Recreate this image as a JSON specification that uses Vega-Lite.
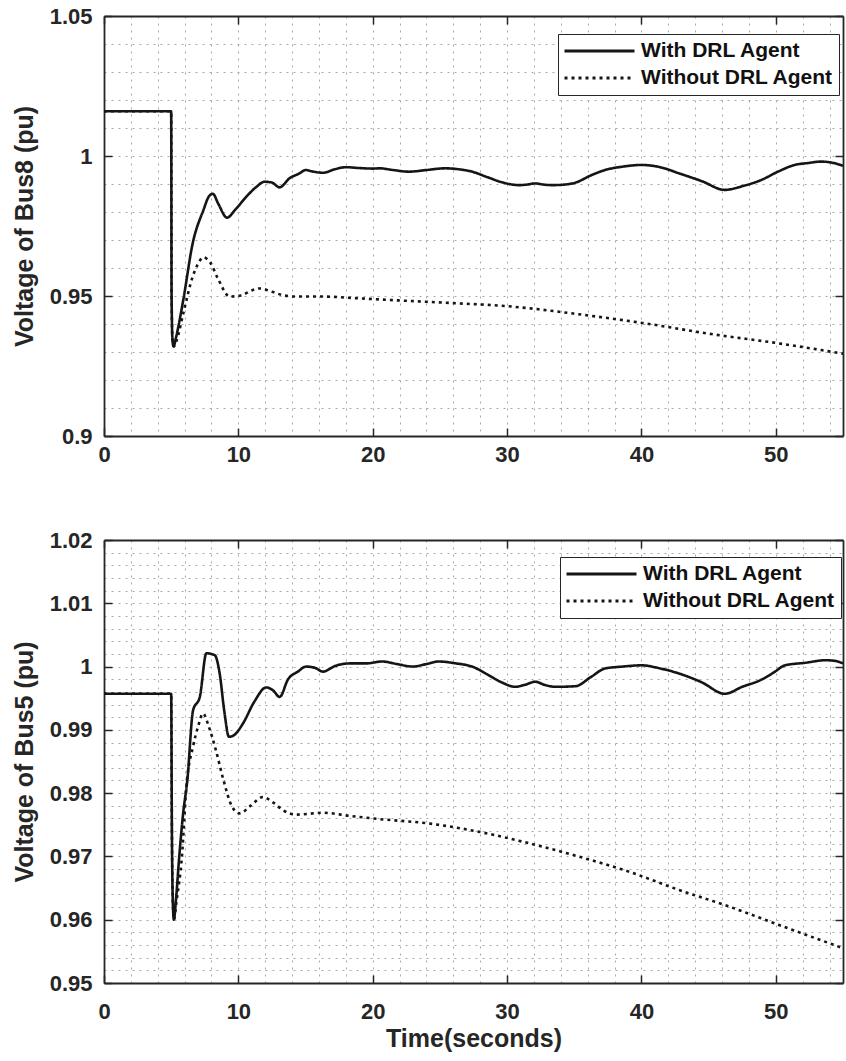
{
  "$schema": "https://vega.github.io/schema/vega-lite/v6.json",
  "padding": {"left": 12, "top": 5, "right": 1, "bottom": 5},
  "background": "white",
  "config": {
    "view": {"stroke": null},
    "font": "Liberation Sans",
    "axis": {
      "labelFont": "Liberation Sans",
      "labelFontWeight": "bold",
      "labelFontSize": 22,
      "labelColor": "#262626",
      "titleFont": "Liberation Sans",
      "titleFontWeight": "bold",
      "titleFontSize": 25,
      "titleColor": "#262626",
      "domainColor": "#262626",
      "domainWidth": 1.8,
      "tickColor": "#262626",
      "tickWidth": 1.5,
      "tickSize": -8,
      "labelOverlap": false,
      "labelFlush": false,
      "labelBound": false,
      "gridColor": "#a8a8a8",
      "gridDash": [2, 5],
      "gridWidth": 1,
      "format": "~g"
    },
    "legend": {
      "labelFont": "Liberation Sans",
      "labelFontWeight": "bold",
      "labelFontSize": 21,
      "labelColor": "#111111",
      "labelLimit": 0
    }
  },
  "datasets": {
    "bus8": [
      {"series": "Without DRL Agent", "t": 0, "v": 1.016},
      {"series": "Without DRL Agent", "t": 5.0, "v": 1.016},
      {"series": "Without DRL Agent", "t": 5.03, "v": 0.95},
      {"series": "Without DRL Agent", "t": 5.1, "v": 0.934},
      {"series": "Without DRL Agent", "t": 5.2, "v": 0.932},
      {"series": "Without DRL Agent", "t": 5.4, "v": 0.934},
      {"series": "Without DRL Agent", "t": 5.9, "v": 0.9438},
      {"series": "Without DRL Agent", "t": 6.6, "v": 0.9569},
      {"series": "Without DRL Agent", "t": 7.0, "v": 0.9615},
      {"series": "Without DRL Agent", "t": 7.4, "v": 0.9638},
      {"series": "Without DRL Agent", "t": 7.9, "v": 0.962},
      {"series": "Without DRL Agent", "t": 8.5, "v": 0.956},
      {"series": "Without DRL Agent", "t": 9.35, "v": 0.9498},
      {"series": "Without DRL Agent", "t": 10.2, "v": 0.9502},
      {"series": "Without DRL Agent", "t": 11.0, "v": 0.952},
      {"series": "Without DRL Agent", "t": 11.6, "v": 0.9527},
      {"series": "Without DRL Agent", "t": 12.5, "v": 0.9515},
      {"series": "Without DRL Agent", "t": 13.4, "v": 0.9502},
      {"series": "Without DRL Agent", "t": 14.3, "v": 0.9498},
      {"series": "Without DRL Agent", "t": 16.3, "v": 0.9498},
      {"series": "Without DRL Agent", "t": 18.5, "v": 0.9493},
      {"series": "Without DRL Agent", "t": 21.2, "v": 0.9486},
      {"series": "Without DRL Agent", "t": 25.4, "v": 0.9476},
      {"series": "Without DRL Agent", "t": 30.4, "v": 0.9462},
      {"series": "Without DRL Agent", "t": 35.3, "v": 0.9435},
      {"series": "Without DRL Agent", "t": 40.3, "v": 0.9402},
      {"series": "Without DRL Agent", "t": 45.2, "v": 0.9364},
      {"series": "Without DRL Agent", "t": 50.2, "v": 0.9331},
      {"series": "Without DRL Agent", "t": 55, "v": 0.9294},
      {"series": "With DRL Agent", "t": 0, "v": 1.016},
      {"series": "With DRL Agent", "t": 5.0, "v": 1.016},
      {"series": "With DRL Agent", "t": 5.03, "v": 0.95},
      {"series": "With DRL Agent", "t": 5.1, "v": 0.934},
      {"series": "With DRL Agent", "t": 5.18, "v": 0.932},
      {"series": "With DRL Agent", "t": 5.35, "v": 0.935},
      {"series": "With DRL Agent", "t": 5.9, "v": 0.9486},
      {"series": "With DRL Agent", "t": 6.6, "v": 0.9688},
      {"series": "With DRL Agent", "t": 7.4, "v": 0.9807},
      {"series": "With DRL Agent", "t": 7.8, "v": 0.9855},
      {"series": "With DRL Agent", "t": 8.1, "v": 0.9865},
      {"series": "With DRL Agent", "t": 8.5, "v": 0.983},
      {"series": "With DRL Agent", "t": 9.15, "v": 0.978},
      {"series": "With DRL Agent", "t": 9.8, "v": 0.981},
      {"series": "With DRL Agent", "t": 10.6, "v": 0.9855},
      {"series": "With DRL Agent", "t": 11.3, "v": 0.9888},
      {"series": "With DRL Agent", "t": 11.95, "v": 0.9908},
      {"series": "With DRL Agent", "t": 12.5, "v": 0.9905},
      {"series": "With DRL Agent", "t": 13.07, "v": 0.9888},
      {"series": "With DRL Agent", "t": 13.8, "v": 0.992},
      {"series": "With DRL Agent", "t": 14.55, "v": 0.9938},
      {"series": "With DRL Agent", "t": 15.0, "v": 0.995},
      {"series": "With DRL Agent", "t": 15.5, "v": 0.9945},
      {"series": "With DRL Agent", "t": 16.3, "v": 0.994},
      {"series": "With DRL Agent", "t": 17.2, "v": 0.9953},
      {"series": "With DRL Agent", "t": 18.0, "v": 0.996},
      {"series": "With DRL Agent", "t": 19.0, "v": 0.9957},
      {"series": "With DRL Agent", "t": 20.0, "v": 0.9955},
      {"series": "With DRL Agent", "t": 20.5, "v": 0.9956},
      {"series": "With DRL Agent", "t": 21.5, "v": 0.995},
      {"series": "With DRL Agent", "t": 22.7, "v": 0.9944},
      {"series": "With DRL Agent", "t": 24.0, "v": 0.995},
      {"series": "With DRL Agent", "t": 25.4, "v": 0.9956},
      {"series": "With DRL Agent", "t": 26.5, "v": 0.9952},
      {"series": "With DRL Agent", "t": 27.4, "v": 0.9944},
      {"series": "With DRL Agent", "t": 28.5, "v": 0.9925},
      {"series": "With DRL Agent", "t": 29.7, "v": 0.9905},
      {"series": "With DRL Agent", "t": 30.9, "v": 0.9896},
      {"series": "With DRL Agent", "t": 31.5, "v": 0.9898},
      {"series": "With DRL Agent", "t": 32.1, "v": 0.9902},
      {"series": "With DRL Agent", "t": 32.7, "v": 0.9898},
      {"series": "With DRL Agent", "t": 33.35, "v": 0.9896},
      {"series": "With DRL Agent", "t": 34.3, "v": 0.9898},
      {"series": "With DRL Agent", "t": 35.1, "v": 0.9905},
      {"series": "With DRL Agent", "t": 36.2, "v": 0.993},
      {"series": "With DRL Agent", "t": 37.3, "v": 0.995},
      {"series": "With DRL Agent", "t": 38.6, "v": 0.9962},
      {"series": "With DRL Agent", "t": 40.0, "v": 0.9968},
      {"series": "With DRL Agent", "t": 41.4, "v": 0.996},
      {"series": "With DRL Agent", "t": 42.8, "v": 0.9938},
      {"series": "With DRL Agent", "t": 44.5, "v": 0.991},
      {"series": "With DRL Agent", "t": 46.2, "v": 0.9879},
      {"series": "With DRL Agent", "t": 47.5, "v": 0.9892},
      {"series": "With DRL Agent", "t": 48.9, "v": 0.9914},
      {"series": "With DRL Agent", "t": 50.2, "v": 0.9945},
      {"series": "With DRL Agent", "t": 51.4, "v": 0.9968},
      {"series": "With DRL Agent", "t": 52.4, "v": 0.9975},
      {"series": "With DRL Agent", "t": 53.4, "v": 0.998},
      {"series": "With DRL Agent", "t": 54.3, "v": 0.9975},
      {"series": "With DRL Agent", "t": 55, "v": 0.9965}
    ],
    "bus5": [
      {"series": "Without DRL Agent", "t": 0, "v": 0.9957},
      {"series": "Without DRL Agent", "t": 5.0, "v": 0.9957},
      {"series": "Without DRL Agent", "t": 5.05, "v": 0.975},
      {"series": "Without DRL Agent", "t": 5.12, "v": 0.963},
      {"series": "Without DRL Agent", "t": 5.2, "v": 0.96},
      {"series": "Without DRL Agent", "t": 5.4, "v": 0.963},
      {"series": "Without DRL Agent", "t": 5.8, "v": 0.97},
      {"series": "Without DRL Agent", "t": 6.13, "v": 0.981},
      {"series": "Without DRL Agent", "t": 6.63, "v": 0.9874},
      {"series": "Without DRL Agent", "t": 7.0, "v": 0.9905},
      {"series": "Without DRL Agent", "t": 7.37, "v": 0.9926},
      {"series": "Without DRL Agent", "t": 7.8, "v": 0.9905},
      {"series": "Without DRL Agent", "t": 8.3, "v": 0.987},
      {"series": "Without DRL Agent", "t": 8.9, "v": 0.982},
      {"series": "Without DRL Agent", "t": 9.5, "v": 0.978},
      {"series": "Without DRL Agent", "t": 10.1, "v": 0.9768},
      {"series": "Without DRL Agent", "t": 10.9, "v": 0.978},
      {"series": "Without DRL Agent", "t": 11.83, "v": 0.9794},
      {"series": "Without DRL Agent", "t": 12.6, "v": 0.9785},
      {"series": "Without DRL Agent", "t": 13.4, "v": 0.9772},
      {"series": "Without DRL Agent", "t": 14.3, "v": 0.9766},
      {"series": "Without DRL Agent", "t": 16.3, "v": 0.9769},
      {"series": "Without DRL Agent", "t": 18.3, "v": 0.9764},
      {"series": "Without DRL Agent", "t": 20.5, "v": 0.9759},
      {"series": "Without DRL Agent", "t": 24.2, "v": 0.9752},
      {"series": "Without DRL Agent", "t": 27.9, "v": 0.9739},
      {"series": "Without DRL Agent", "t": 31.6, "v": 0.9721},
      {"series": "Without DRL Agent", "t": 35.3, "v": 0.97},
      {"series": "Without DRL Agent", "t": 39.05, "v": 0.9676},
      {"series": "Without DRL Agent", "t": 42.8, "v": 0.9647},
      {"series": "Without DRL Agent", "t": 46.5, "v": 0.9621},
      {"series": "Without DRL Agent", "t": 50.2, "v": 0.9592},
      {"series": "Without DRL Agent", "t": 55, "v": 0.9555},
      {"series": "With DRL Agent", "t": 0, "v": 0.9957},
      {"series": "With DRL Agent", "t": 5.0, "v": 0.9957},
      {"series": "With DRL Agent", "t": 5.05, "v": 0.975},
      {"series": "With DRL Agent", "t": 5.12, "v": 0.963},
      {"series": "With DRL Agent", "t": 5.2, "v": 0.96},
      {"series": "With DRL Agent", "t": 5.35, "v": 0.963},
      {"series": "With DRL Agent", "t": 5.6, "v": 0.97},
      {"series": "With DRL Agent", "t": 5.89, "v": 0.9768},
      {"series": "With DRL Agent", "t": 6.2, "v": 0.982},
      {"series": "With DRL Agent", "t": 6.63, "v": 0.9931},
      {"series": "With DRL Agent", "t": 7.13, "v": 0.9952},
      {"series": "With DRL Agent", "t": 7.62, "v": 1.0021},
      {"series": "With DRL Agent", "t": 8.24, "v": 1.0018},
      {"series": "With DRL Agent", "t": 8.61, "v": 0.9989},
      {"series": "With DRL Agent", "t": 8.95, "v": 0.993},
      {"series": "With DRL Agent", "t": 9.3, "v": 0.9889},
      {"series": "With DRL Agent", "t": 9.7, "v": 0.9892},
      {"series": "With DRL Agent", "t": 10.34, "v": 0.991},
      {"series": "With DRL Agent", "t": 11.2, "v": 0.9945},
      {"series": "With DRL Agent", "t": 12.07, "v": 0.9967},
      {"series": "With DRL Agent", "t": 12.6, "v": 0.9962},
      {"series": "With DRL Agent", "t": 13.07, "v": 0.9952},
      {"series": "With DRL Agent", "t": 13.7, "v": 0.998},
      {"series": "With DRL Agent", "t": 14.43, "v": 0.9992},
      {"series": "With DRL Agent", "t": 15.04, "v": 1.0},
      {"series": "With DRL Agent", "t": 15.7, "v": 0.9998},
      {"series": "With DRL Agent", "t": 16.3, "v": 0.9992},
      {"series": "With DRL Agent", "t": 17.2, "v": 1.0001},
      {"series": "With DRL Agent", "t": 18.3, "v": 1.0005},
      {"series": "With DRL Agent", "t": 19.5, "v": 1.0005},
      {"series": "With DRL Agent", "t": 20.7, "v": 1.0008},
      {"series": "With DRL Agent", "t": 21.8, "v": 1.0004},
      {"series": "With DRL Agent", "t": 23.0, "v": 1.0},
      {"series": "With DRL Agent", "t": 24.0, "v": 1.0004},
      {"series": "With DRL Agent", "t": 24.9, "v": 1.0008},
      {"series": "With DRL Agent", "t": 26.2, "v": 1.0005},
      {"series": "With DRL Agent", "t": 27.4, "v": 1.0},
      {"series": "With DRL Agent", "t": 28.5, "v": 0.9988},
      {"series": "With DRL Agent", "t": 29.6, "v": 0.9975},
      {"series": "With DRL Agent", "t": 30.6, "v": 0.9968},
      {"series": "With DRL Agent", "t": 31.3, "v": 0.9971},
      {"series": "With DRL Agent", "t": 32.1, "v": 0.9976},
      {"series": "With DRL Agent", "t": 32.8, "v": 0.9971},
      {"series": "With DRL Agent", "t": 33.6, "v": 0.9968},
      {"series": "With DRL Agent", "t": 35.1, "v": 0.9969},
      {"series": "With DRL Agent", "t": 36.2, "v": 0.9983},
      {"series": "With DRL Agent", "t": 37.3, "v": 0.9997},
      {"series": "With DRL Agent", "t": 38.6, "v": 1.0},
      {"series": "With DRL Agent", "t": 40.0, "v": 1.0002},
      {"series": "With DRL Agent", "t": 41.4, "v": 0.9997},
      {"series": "With DRL Agent", "t": 42.8, "v": 0.9989},
      {"series": "With DRL Agent", "t": 44.5, "v": 0.9975},
      {"series": "With DRL Agent", "t": 46.2, "v": 0.9957},
      {"series": "With DRL Agent", "t": 47.5, "v": 0.9968},
      {"series": "With DRL Agent", "t": 48.9, "v": 0.9979},
      {"series": "With DRL Agent", "t": 49.8, "v": 0.999},
      {"series": "With DRL Agent", "t": 50.7, "v": 1.0002},
      {"series": "With DRL Agent", "t": 52.2, "v": 1.0006},
      {"series": "With DRL Agent", "t": 53.7, "v": 1.001},
      {"series": "With DRL Agent", "t": 54.4, "v": 1.0009},
      {"series": "With DRL Agent", "t": 55, "v": 1.0005}
    ]
  },
  "bounds": "flush",
  "spacing": 104,
  "resolve": {"scale": {"strokeDash": "independent"}, "legend": {"strokeDash": "independent"}},
  "vconcat": [
    {
      "width": 739,
      "height": 420,
      "data": {"name": "bus8"},
      "layer": [
        {
          "mark": {"type": "line", "interpolate": "monotone", "strokeWidth": 2.6, "color": "#151515", "clip": true},
          "encoding": {
            "x": {
              "field": "t", "type": "quantitative",
              "scale": {"domain": [0, 55], "nice": false, "zero": false},
              "axis": {
                "orient": "bottom", "title": null, "grid": true,
                "values": [0, 2, 4, 6, 8, 10, 12, 14, 16, 18, 20, 22, 24, 26, 28, 30, 32, 34, 36, 38, 40, 42, 44, 46, 48, 50, 52, 54],
                "labelExpr": "datum.value % 10 == 0 ? datum.label : ''",
                "tickOpacity": {"condition": {"test": "datum.value % 10 == 0", "value": 1}, "value": 0},
                "labelPadding": 16
              }
            },
            "y": {
              "field": "v", "type": "quantitative",
              "scale": {"domain": [0.9, 1.05], "nice": false, "zero": false},
              "axis": {
                "orient": "left", "title": "Voltage of Bus8 (pu)", "grid": true,
                "values": [0.9, 0.91, 0.92, 0.93, 0.94, 0.95, 0.96, 0.97, 0.98, 0.99, 1, 1.01, 1.02, 1.03, 1.04, 1.05],
                "labelExpr": "abs(datum.value * 20 - round(datum.value * 20)) < 0.001 ? datum.label : ''",
                "tickOpacity": {"condition": {"test": "abs(datum.value * 20 - round(datum.value * 20)) < 0.001", "value": 1}, "value": 0},
                "labelPadding": 20,
                "titlePadding": 12
              }
            },
            "strokeDash": {
              "field": "series", "type": "nominal",
              "scale": {"domain": ["With DRL Agent", "Without DRL Agent"], "range": [[1, 0], [3, 4]]},
              "legend": {
                "title": null, "orient": "none", "legendX": 454, "legendY": 18,
                "symbolType": "stroke", "symbolSize": 4900, "symbolStrokeWidth": 2.8,
                "symbolStrokeColor": "#151515", "clipHeight": 24, "rowPadding": 3,
                "padding": 5, "labelOffset": 5, "strokeColor": "#262626", "fillColor": "white"
              }
            }
          }
        },
        {
          "mark": {"type": "point", "opacity": 0},
          "encoding": {
            "x": {
              "field": "t", "type": "quantitative",
              "axis": {"orient": "top", "title": null, "labels": false, "grid": false, "values": [0, 10, 20, 30, 40, 50]}
            },
            "y": {
              "field": "v", "type": "quantitative",
              "axis": {"orient": "right", "title": null, "labels": false, "grid": false, "values": [0.9, 0.95, 1, 1.05]}
            }
          }
        }
      ],
      "resolve": {"axis": {"x": "independent", "y": "independent"}}
    },
    {
      "width": 739,
      "height": 443,
      "data": {"name": "bus5"},
      "layer": [
        {
          "mark": {"type": "line", "interpolate": "monotone", "strokeWidth": 2.6, "color": "#151515", "clip": true},
          "encoding": {
            "x": {
              "field": "t", "type": "quantitative",
              "scale": {"domain": [0, 55], "nice": false, "zero": false},
              "axis": {
                "orient": "bottom", "title": "Time(seconds)", "grid": true,
                "values": [0, 2, 4, 6, 8, 10, 12, 14, 16, 18, 20, 22, 24, 26, 28, 30, 32, 34, 36, 38, 40, 42, 44, 46, 48, 50, 52, 54],
                "labelExpr": "datum.value % 10 == 0 ? datum.label : ''",
                "tickOpacity": {"condition": {"test": "datum.value % 10 == 0", "value": 1}, "value": 0},
                "labelPadding": 26,
                "titlePadding": 4
              }
            },
            "y": {
              "field": "v", "type": "quantitative",
              "scale": {"domain": [0.95, 1.02], "nice": false, "zero": false},
              "axis": {
                "orient": "left", "title": "Voltage of Bus5 (pu)", "grid": true,
                "values": [0.95, 0.952, 0.954, 0.956, 0.958, 0.96, 0.962, 0.964, 0.966, 0.968, 0.97, 0.972, 0.974, 0.976, 0.978, 0.98, 0.982, 0.984, 0.986, 0.988, 0.99, 0.992, 0.994, 0.996, 0.998, 1, 1.002, 1.004, 1.006, 1.008, 1.01, 1.012, 1.014, 1.016, 1.018, 1.02],
                "labelExpr": "abs(datum.value * 100 - round(datum.value * 100)) < 0.001 ? datum.label : ''",
                "tickOpacity": {"condition": {"test": "abs(datum.value * 100 - round(datum.value * 100)) < 0.001", "value": 1}, "value": 0},
                "labelPadding": 20,
                "titlePadding": 12
              }
            },
            "strokeDash": {
              "field": "series", "type": "nominal",
              "scale": {"domain": ["With DRL Agent", "Without DRL Agent"], "range": [[1, 0], [3, 4]]},
              "legend": {
                "title": null, "orient": "none", "legendX": 456, "legendY": 17,
                "symbolType": "stroke", "symbolSize": 4900, "symbolStrokeWidth": 2.8,
                "symbolStrokeColor": "#151515", "clipHeight": 24, "rowPadding": 3,
                "padding": 5, "labelOffset": 5, "strokeColor": "#262626", "fillColor": "white"
              }
            }
          }
        },
        {
          "mark": {"type": "point", "opacity": 0},
          "encoding": {
            "x": {
              "field": "t", "type": "quantitative",
              "axis": {"orient": "top", "title": null, "labels": false, "grid": false, "values": [0, 10, 20, 30, 40, 50]}
            },
            "y": {
              "field": "v", "type": "quantitative",
              "axis": {"orient": "right", "title": null, "labels": false, "grid": false, "values": [0.95, 0.96, 0.97, 0.98, 0.99, 1, 1.01, 1.02]}
            }
          }
        }
      ],
      "resolve": {"axis": {"x": "independent", "y": "independent"}}
    }
  ]
}
